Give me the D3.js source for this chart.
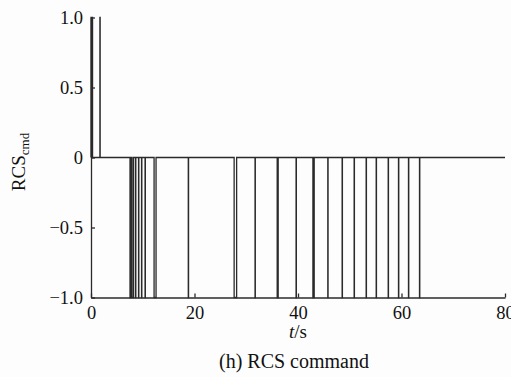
<!DOCTYPE html>
<html>
<head>
<meta charset="utf-8">
<script src="https://cdn.jsdelivr.net/npm/d3@7"></script>
<style>
  html, body { margin: 0; padding: 0; background: #fdfdfd; }
  svg { display: block; }
  text { font-family: "Liberation Serif", "Times New Roman", Times, "DejaVu Serif", serif; fill: #111; }
</style>
</head>
<body>
<svg id="chart" width="511" height="377"></svg>
<script>
// ---- data ----
const xTicks = [0, 20, 40, 60, 80];
const yTicks = [1.0, 0.5, 0, -0.5, -1.0];
const yTickLabels = ["1.0", "0.5", "0", "\u22120.5", "\u22121.0"];
// positive command pulses (value +1)
const posStart = [0.0, 1.72];
const posEnd   = [0.3, 1.77];
// negative command pulses (value -1)
const negStart = [7.54, 7.93, 8.61, 9.19, 9.77, 10.45, 12.19, 18.80, 27.66, 31.70, 35.98, 39.63, 42.88, 45.76, 48.53, 50.85, 53.17, 55.11, 57.43, 59.42, 61.35, 63.48];
const negEnd   = [7.74, 8.22, 8.66, 9.24, 9.82, 10.50, 12.57, 18.85, 28.14, 31.75, 36.17, 39.68, 43.13, 45.81, 48.58, 50.90, 53.22, 55.16, 57.48, 59.47, 61.40, 63.53];
const tEnd = 80;

// ---- chart ----
const svg = d3.select("#chart");
const x = d3.scaleLinear().domain([0, 80]).range([91, 505]);
const y = d3.scaleLinear().domain([-1, 1]).range([297.5, 17.5]);
const ink = "#2a2a2a";
const serif = '"Liberation Serif", "Times New Roman", Times, serif';

// build pulse list
const pulses = [];
posStart.forEach((s, i) => pulses.push({ s, e: posEnd[i], v: 1 }));
negStart.forEach((s, i) => pulses.push({ s, e: negEnd[i], v: -1 }));
pulses.sort((a, b) => a.s - b.s);

const pts = [[0, 0]];
pulses.forEach(p => {
  pts.push([p.s, 0], [p.s, p.v], [p.e, p.v], [p.e, 0]);
});
pts.push([tEnd, 0]);

const line = d3.line().x(d => x(d[0])).y(d => y(d[1]));

// axes
const xAxis = d3.axisBottom(x).tickValues(xTicks).tickSizeInner(-4).tickSizeOuter(0).tickPadding(8).tickFormat(d3.format("d"));
const yAxis = d3.axisLeft(y).tickValues(yTicks).tickSizeInner(-4).tickSizeOuter(0).tickPadding(8)
  .tickFormat((d, i) => yTickLabels[i]);

const gx = svg.append("g").attr("transform", `translate(0,${y(-1)})`).call(xAxis);
const gy = svg.append("g").attr("transform", `translate(${x(0)},0)`).call(yAxis);
[gx, gy].forEach(g => {
  g.attr("font-family", null).attr("font-size", null);
  g.selectAll("path, line").attr("stroke", ink).attr("stroke-width", 1.3);
  g.selectAll("text").style("font-family", serif).style("font-size", "18.5px").attr("fill", "#111");
});
gx.selectAll("text").attr("dy", "0.71em");

// signal
svg.append("path")
  .attr("d", line(pts))
  .attr("fill", "none")
  .attr("stroke", ink)
  .attr("stroke-width", 1.3);

// labels
const xl = svg.append("text").attr("x", 298).attr("y", 338).attr("text-anchor", "middle")
  .style("font-family", serif).style("font-size", "19px");
xl.append("tspan").attr("font-style", "italic").text("t");
xl.append("tspan").text("/s");

const yl = svg.append("text")
  .attr("transform", "translate(25,162) rotate(-90)")
  .attr("text-anchor", "middle").style("font-family", serif).style("font-size", "19px");
yl.append("tspan").text("RCS");
yl.append("tspan").style("font-size", "13px").attr("dy", 4).text("cmd");

svg.append("text").attr("x", 294).attr("y", 368).attr("text-anchor", "middle")
  .style("font-family", serif).style("font-size", "20px")
  .text("(h) RCS command");
</script>
</body>
</html>
